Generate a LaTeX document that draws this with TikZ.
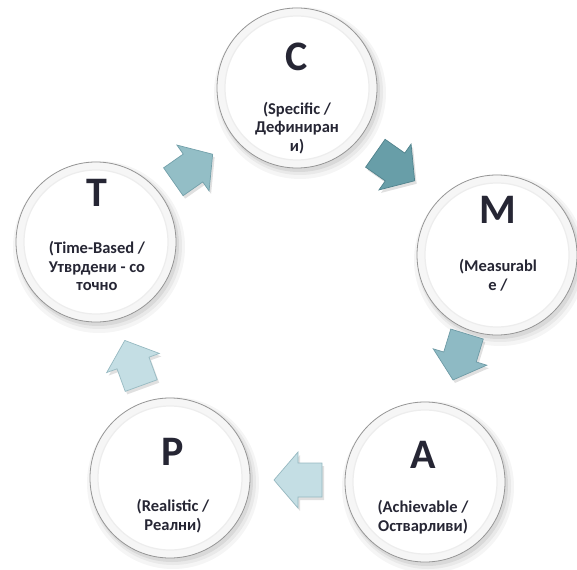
\documentclass[tikz,border=0pt]{standalone}
\usepackage{fontspec}
\setmainfont{Carlito}
\definecolor{txt}{RGB}{38,38,52}
\definecolor{rim}{RGB}{150,150,150}
\definecolor{arC}{RGB}{104,158,168}
\definecolor{arCd}{RGB}{80,130,140}
\definecolor{arT}{RGB}{147,190,198}
\definecolor{arTd}{RGB}{115,160,170}
\definecolor{arM}{RGB}{142,186,196}
\definecolor{arMd}{RGB}{110,155,166}
\definecolor{arL}{RGB}{196,222,228}
\definecolor{arLd}{RGB}{150,185,193}
\begin{document}
\begin{tikzpicture}[x=1pt,y=-1pt,
  bubble/.style={circle, minimum size=160pt, inner sep=0pt, draw=rim, line width=0.8pt, fill=gray!7},
  bigletter/.style={font=\fontsize{42}{42}\selectfont\bfseries, text=txt, inner sep=0pt},
  subtext/.style={font=\fontsize{16.5}{18.5}\selectfont\bfseries, text=txt, align=center, inner sep=0pt},
  blockarrow/.pic={\path[pic actions] (-24,-17)--(0,-17)--(0,-28)--(24,0)--(0,28)--(0,17)--(-24,17)--cycle;},
  arrowline/.style={line width=0.7pt, line join=miter}
]
\useasboundingbox (0,0) rectangle (577,569);
% shadows of bubbles
\foreach \x/\y in {297/88, 497/255, 96/242, 170/478, 425/482}{
  \fill[black, opacity=0.04] (\x+3,\y+5) circle (86pt);
  \fill[black, opacity=0.05] (\x+3,\y+4) circle (83pt);
  \fill[black, opacity=0.07] (\x+2,\y+3) circle (81pt);
}
% bubbles
\node[bubble] (c) at (297,88) {};
\node[bubble] (m) at (497,255) {};
\node[bubble] (t) at (96,242) {};
\node[bubble] (p) at (170,478) {};
\node[bubble] (a) at (425,482) {};
\foreach \n in {c,m,t,p,a}{
  \fill[white] (\n.center) circle (72pt);
  \draw[gray!14, line width=1.2pt] (\n.center) circle (72pt);
}
% letters
\node[bigletter] (cl) at (297,57) {C};
\node[bigletter] (ml) at (498,210) {M};
\node[bigletter] (tl) at (97,193) {T};
\node[bigletter] (pl) at (173,452) {P};
\node[bigletter] (al) at (423,455) {A};
% texts
\node[subtext] (ct) at (297,128) {(Specific /\\Дефиниран\\и)};
\node[subtext] (mt) at (498,275) {(Measurabl\\e /};
\node[subtext] (tt) at (97,266) {(Time-Based /\\Утврдени - со\\точно};
\node[subtext] (pt) at (173,516) {(Realistic /\\Реални)};
\node[subtext] (at) at (423,517) {(Achievable /\\Остварливи)};
% arrows: shadows
\foreach \x/\y/\r in {395/167/-35, 460/357/-107, 298/480/180, 133/363/110, 193/168/35}{
  \pic[rotate=\r, fill=black, opacity=0.12] at (\x+2,\y+3) {blockarrow};
}
% arrows
\pic[rotate=-35, fill=arC, draw=arCd, arrowline] at (395,167) {blockarrow};
\pic[rotate=-107, fill=arM, draw=arMd, arrowline] at (460,357) {blockarrow};
\pic[rotate=180, fill=arL, draw=arLd, arrowline] at (298,480) {blockarrow};
\pic[rotate=110, fill=arL, draw=arLd, arrowline] at (133,363) {blockarrow};
\pic[rotate=35, fill=arT, draw=arTd, arrowline] at (193,168) {blockarrow};
\end{tikzpicture}
\end{document}
